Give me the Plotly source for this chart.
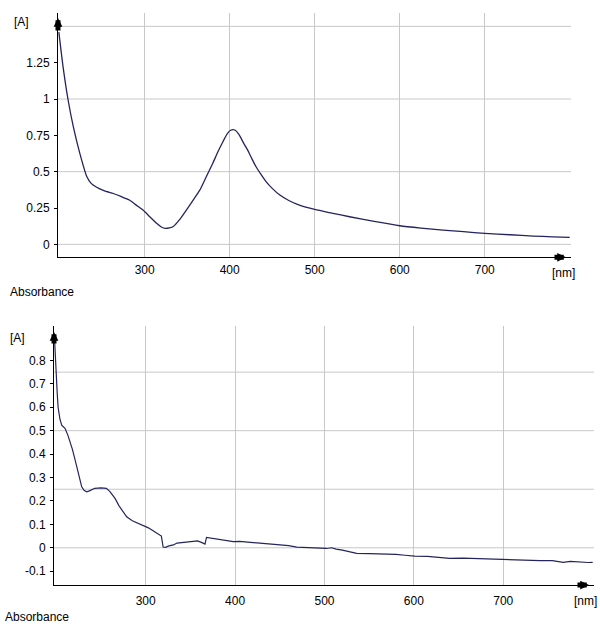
import plotly.graph_objects as go

# ---------------- data ----------------
top_nm = [199, 204, 210, 216, 223.5, 232, 237, 243, 252, 263, 272, 282, 290, 298, 306, 314, 320, 324,
          329, 334, 341, 349, 357, 365, 372, 380, 386, 392, 397, 401, 406, 411, 416, 421, 426, 431,
          437, 443, 450, 459, 470, 482, 500, 520, 541, 570, 600, 625, 651, 675, 700, 730, 757, 780, 800]
top_abs = [1.46, 1.22, 0.99, 0.81, 0.63, 0.465, 0.42, 0.395, 0.37, 0.35, 0.33, 0.305, 0.27, 0.236, 0.19,
           0.145, 0.118, 0.11, 0.113, 0.125, 0.17, 0.236, 0.305, 0.375, 0.46, 0.557, 0.635, 0.706, 0.76,
           0.785, 0.787, 0.755, 0.70, 0.65, 0.59, 0.534, 0.48, 0.43, 0.385, 0.339, 0.30, 0.27, 0.24,
           0.215, 0.19, 0.158, 0.128, 0.112, 0.098, 0.087, 0.076, 0.066, 0.057, 0.052, 0.048]

bot_nm = [198, 199.5, 201, 202, 204, 206, 209.7, 213, 215.3, 218, 221, 225, 228.4, 231, 234, 237, 240,
          243, 250, 256, 260, 265.7, 270, 275, 278.7, 285, 291, 297, 303, 310, 317.5, 319.5, 322, 326,
          331, 335, 340, 346, 353, 358, 363, 366.3, 368, 372, 379, 386, 392, 398, 405, 412, 420, 428,
          435, 445, 452, 460, 469, 477, 485, 494, 502, 508, 513, 520, 528, 536, 550, 565, 580, 590,
          601, 615, 625, 640, 655, 670, 685, 700, 712, 725, 741, 755, 767, 775, 785, 795, 800]
bot_abs = [0.89, 0.75, 0.66, 0.60, 0.55, 0.524, 0.51, 0.48, 0.453, 0.42, 0.375, 0.31, 0.26, 0.245, 0.239,
           0.243, 0.25, 0.254, 0.256, 0.254, 0.24, 0.211, 0.18, 0.15, 0.132, 0.115, 0.106, 0.097, 0.085,
           0.068, 0.05, 0.003, 0.002, 0.008, 0.012, 0.02, 0.022, 0.026, 0.03, 0.029, 0.022, 0.016, 0.044,
           0.042, 0.038, 0.033, 0.03, 0.026, 0.027, 0.025, 0.022, 0.019, 0.018, 0.015, 0.012, 0.009,
           0.003, 0.002, -0.001, -0.002, -0.003, 0.0, -0.006, -0.01, -0.018, -0.024, -0.025, -0.026,
           -0.028, -0.032, -0.036, -0.037, -0.041, -0.045, -0.044, -0.046, -0.049, -0.05, -0.052,
           -0.053, -0.055, -0.055, -0.062, -0.058, -0.061, -0.063, -0.062]

x_tick_vals = [300, 400, 500, 600, 700]
x_tick_text = ["300", "400", "500", "600", "700"]
top_y_ticks = [0, 0.25, 0.5, 0.75, 1, 1.25]
top_y_text = ["0", "0.25", "0.5", "0.75", "1", "1.25"]
bot_y_ticks = [-0.1, 0, 0.1, 0.2, 0.3, 0.4, 0.5, 0.6, 0.7, 0.8]
bot_y_text = ["-0.1", "0", "0.1", "0.2", "0.3", "0.4", "0.5", "0.6", "0.7", "0.8"]
top_grid_y = [0, 0.5, 1.0, 1.5]
bot_grid_y = [0, 0.25, 0.5, 0.75]

# ---------------- layout helpers ----------------
W, H = 600, 625
FONT = "Liberation Sans, Arial, sans-serif"
LINE = "#24245e"
GRID = "#c8c8c8"

def px(x):
    return x / W

def py(y):
    return 1 - y / H

fig = go.Figure()
fig.add_trace(go.Scatter(x=top_nm, y=top_abs, mode="lines", xaxis="x", yaxis="y",
                         line=dict(color=LINE, width=1.3, shape="spline", smoothing=0.6),
                         showlegend=False, hoverinfo="skip"))
fig.add_trace(go.Scatter(x=bot_nm, y=bot_abs, mode="lines", xaxis="x2", yaxis="y2",
                         line=dict(color=LINE, width=1.2),
                         showlegend=False, hoverinfo="skip"))

common_x = dict(tickmode="array", tickvals=x_tick_vals, ticktext=x_tick_text,
                showgrid=True, gridcolor=GRID, gridwidth=1, zeroline=False,
                showline=True, linecolor="black", linewidth=1, ticks="",
                tickfont=dict(family=FONT, size=12, color="black"))
common_y = dict(tickmode="array", showgrid=False, zeroline=False,
                showline=True, linecolor="black", linewidth=1, ticks="outside",
                ticklen=3, tickcolor="black",
                tickfont=dict(family=FONT, size=12, color="black"))

fig.update_layout(
    width=W, height=H, autosize=False,
    margin=dict(l=0, r=0, t=0, b=0),
    paper_bgcolor="white", plot_bgcolor="white",
    xaxis=dict(common_x, domain=[px(58), px(571)], range=[198, 801.5], anchor="y",
               ticklabelstandoff=1),
    yaxis=dict(common_y, domain=[py(257.3), py(13)], range=[-0.089, 1.592], anchor="x",
               tickvals=top_y_ticks, ticktext=top_y_text, ticklabelstandoff=2),
    xaxis2=dict(common_x, domain=[px(54), px(594)], range=[197.4, 801.5], anchor="y2",
                ticklabelstandoff=5),
    yaxis2=dict(common_y, domain=[py(585), py(326)], range=[-0.159, 0.947], anchor="x2",
                tickvals=bot_y_ticks, ticktext=bot_y_text, ticklabelstandoff=2),
)

shapes = []
for g in top_grid_y:
    shapes.append(dict(type="line", xref="x domain", yref="y", x0=0, x1=1, y0=g, y1=g,
                       line=dict(color=GRID, width=1), layer="below"))
for g in bot_grid_y:
    shapes.append(dict(type="line", xref="x2 domain", yref="y2", x0=0, x1=1, y0=g, y1=g,
                       line=dict(color=GRID, width=1), layer="below"))
fig.update_layout(shapes=shapes)

ann = []
txt = dict(family=FONT, size=12, color="black")
# axis labels
ann.append(dict(text="[A]", x=px(12), y=py(22), xref="paper", yref="paper", showarrow=False,
                xanchor="left", yanchor="middle", font=txt))
ann.append(dict(text="Absorbance", x=px(8), y=py(292), xref="paper", yref="paper", showarrow=False,
                xanchor="left", yanchor="middle", font=txt))
ann.append(dict(text="[nm]", x=px(563), y=py(273), xref="paper", yref="paper", showarrow=False,
                xanchor="center", yanchor="middle", font=txt))
ann.append(dict(text="[A]", x=px(8), y=py(338), xref="paper", yref="paper", showarrow=False,
                xanchor="left", yanchor="middle", font=txt))
ann.append(dict(text="Absorbance", x=px(3), y=py(617), xref="paper", yref="paper", showarrow=False,
                xanchor="left", yanchor="middle", font=txt))
ann.append(dict(text="[nm]", x=px(585), y=py(601), xref="paper", yref="paper", showarrow=False,
                xanchor="center", yanchor="middle", font=txt))
# axis arrows (thick bars with small heads, as in the reference)
arrow = dict(text="", showarrow=True, arrowhead=2, arrowsize=0.35, arrowwidth=5,
             arrowcolor="black", xref="paper", yref="paper", axref="pixel", ayref="pixel")
ann.append(dict(arrow, x=px(58), y=py(18), ax=0, ay=14))
ann.append(dict(arrow, x=px(54), y=py(332), ax=0, ay=13))
ann.append(dict(arrow, x=px(566), y=py(257.3), ax=-13, ay=0))
ann.append(dict(arrow, x=px(589), y=py(585), ax=-13, ay=0))
fig.update_layout(annotations=ann)

fig.write_html("out.html", config={"displayModeBar": False},
               post_script="document.body.style.margin='0';document.body.style.overflow='hidden';")
